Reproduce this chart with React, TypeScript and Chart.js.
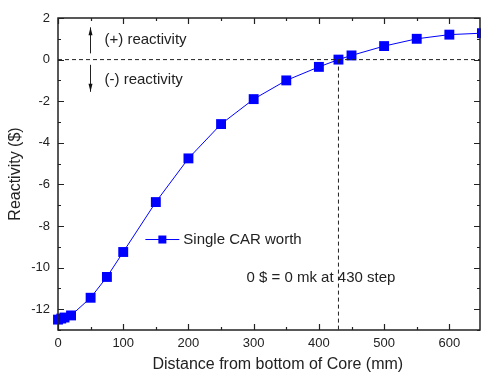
import React, { useEffect, useRef } from "react";
import { Chart, registerables } from "chart.js";

Chart.register(...registerables);

const distances = [0, 5, 10, 20, 50, 75, 100, 150, 200, 250, 300, 350, 400, 430, 450, 500, 550, 600, 650];
const reactivity = [-12.5, -12.45, -12.4, -12.3, -11.45, -10.45, -9.25, -6.85, -4.75, -3.1, -1.9, -1.0, -0.35, 0, 0.2, 0.65, 1.0, 1.2, 1.27];
const xTicks = [0, 100, 200, 300, 400, 500, 600];
const yTicks = [-12, -10, -8, -6, -4, -2, 0, 2];
const xMinorTicks = [50, 150, 250, 350, 450, 550];
const yMinorTicks = [-13, -11, -9, -7, -5, -3, -1, 1];
const criticalStep = 430;
const X_MIN = 0;
const X_MAX = 647;
const Y_MIN = -13;
const Y_MAX = 2;
const seriesLabel = "Single CAR worth";
const noteText = "0 $ = 0 mk at 430 step";
const xTitle = "Distance from bottom of Core (mm)";
const yTitle = "Reactivity ($)";
const FONT = "Liberation Sans, Arial, sans-serif";

const decorPlugin = {
  id: "decor",
  afterDatasetsDraw(chart: any) {
    const { ctx, chartArea, scales } = chart;
    const xs = scales.x;
    const ys = scales.y;
    const { left, right, top, bottom } = chartArea;
    ctx.save();
    // frame
    ctx.strokeStyle = "#222";
    ctx.lineWidth = 1.5;
    ctx.strokeRect(left, top, right - left, bottom - top);
    // ticks inward
    ctx.lineWidth = 1.2;
    const major = 6, minor = 3;
    ctx.beginPath();
    xTicks.forEach((v) => {
      const px = Math.round(xs.getPixelForValue(v)) + 0.5;
      ctx.moveTo(px, bottom); ctx.lineTo(px, bottom - major);
      ctx.moveTo(px, top); ctx.lineTo(px, top + major);
    });
    xMinorTicks.forEach((v) => {
      const px = Math.round(xs.getPixelForValue(v)) + 0.5;
      ctx.moveTo(px, bottom); ctx.lineTo(px, bottom - minor);
      ctx.moveTo(px, top); ctx.lineTo(px, top + minor);
    });
    yTicks.forEach((v) => {
      const py = Math.round(ys.getPixelForValue(v)) + 0.5;
      ctx.moveTo(left, py); ctx.lineTo(left + major, py);
      ctx.moveTo(right, py); ctx.lineTo(right - major, py);
    });
    yMinorTicks.forEach((v) => {
      const py = Math.round(ys.getPixelForValue(v)) + 0.5;
      ctx.moveTo(left, py); ctx.lineTo(left + minor, py);
      ctx.moveTo(right, py); ctx.lineTo(right - minor, py);
    });
    ctx.stroke();

    // arrows
    const ax = Math.round(xs.getPixelForValue(49)) + 0.5;
    const drawArrow = (y0: number, y1: number) => {
      const p0 = ys.getPixelForValue(y0);
      const p1 = ys.getPixelForValue(y1);
      ctx.strokeStyle = "#222";
      ctx.fillStyle = "#111";
      ctx.lineWidth = 1;
      ctx.beginPath();
      ctx.moveTo(ax, p0);
      ctx.lineTo(ax, p1);
      ctx.stroke();
      const dir = p1 < p0 ? -1 : 1;
      ctx.beginPath();
      ctx.moveTo(ax, p1);
      ctx.lineTo(ax - 2, p1 - dir * 8);
      ctx.lineTo(ax + 2, p1 - dir * 8);
      ctx.closePath();
      ctx.fill();
    };
    drawArrow(0.3, 1.55);
    drawArrow(-0.25, -1.55);

    // texts
    ctx.fillStyle = "#222";
    ctx.font = `15px ${FONT}`;
    ctx.textBaseline = "middle";
    ctx.textAlign = "left";
    ctx.fillText("(+) reactivity", ax + 14, ys.getPixelForValue(0.95));
    ctx.fillText("(-) reactivity", ax + 14, ys.getPixelForValue(-0.95));
    ctx.fillText(noteText, xs.getPixelForValue(289), ys.getPixelForValue(-10.5));

    // x title
    ctx.font = `16px ${FONT}`;
    ctx.textAlign = "center";
    ctx.fillText(xTitle, xs.getPixelForValue(337), bottom + 35);
    ctx.textAlign = "left";
    ctx.font = `15px ${FONT}`;

    // legend
    const ly = ys.getPixelForValue(-8.65);
    const lx0 = xs.getPixelForValue(134);
    const lx1 = xs.getPixelForValue(186);
    ctx.strokeStyle = "#0000ff";
    ctx.lineWidth = 1;
    ctx.beginPath();
    ctx.moveTo(lx0, ly);
    ctx.lineTo(lx1, ly);
    ctx.stroke();
    ctx.fillStyle = "#0000ff";
    const lm = (lx0 + lx1) / 2;
    ctx.fillRect(lm - 4, ly - 4, 8, 8);
    ctx.fillStyle = "#222";
    ctx.fillText(seriesLabel, lx1 + 4, ly);
    ctx.restore();
  },
};

export default function App() {
  const ref = useRef<HTMLCanvasElement>(null);
  useEffect(() => {
    document.body.style.margin = "0";
    const canvas = ref.current!;
    const chart = new Chart(canvas, {
      type: "line",
      data: {
        datasets: [
          {
            label: "zero",
            data: [{ x: X_MIN, y: 0 }, { x: X_MAX, y: 0 }],
            borderColor: "#222",
            borderWidth: 1,
            borderDash: [4, 3],
            pointRadius: 0,
          },
          {
            label: "critical",
            data: [{ x: criticalStep, y: 0 }, { x: criticalStep, y: Y_MIN }],
            borderColor: "#222",
            borderWidth: 1,
            borderDash: [4, 3],
            pointRadius: 0,
          },
          {
            label: seriesLabel,
            data: distances.map((d, i) => ({ x: d, y: reactivity[i] })),
            borderColor: "#0000ff",
            backgroundColor: "#0000ff",
            borderWidth: 1,
            pointStyle: "rect",
            pointRadius: 7,
            pointBorderWidth: 0,
            clip: false as any,
          },
        ],
      },
      options: {
        responsive: false,
        animation: false,
        layout: { autoPadding: false, padding: { top: 18, right: 1, left: 0, bottom: 0 } },
        plugins: { legend: { display: false }, tooltip: { enabled: false } },
        scales: {
          x: {
            type: "linear",
            min: X_MIN,
            max: X_MAX,
            grid: { display: false, drawTicks: false },
            border: { display: false },
            afterBuildTicks: (s: any) => { s.ticks = xTicks.map((v) => ({ value: v })); },
            afterFit: (s: any) => { s.height = 42; },
            ticks: { color: "#222", font: { family: FONT, size: 13 }, padding: 6, maxRotation: 0 },
            title: { display: false },
          },
          y: {
            type: "linear",
            min: Y_MIN,
            max: Y_MAX,
            grid: { display: false, drawTicks: false },
            border: { display: false },
            afterBuildTicks: (s: any) => { s.ticks = yTicks.map((v) => ({ value: v })); },
            afterFit: (s: any) => { s.width = 58; },
            ticks: { color: "#222", font: { family: FONT, size: 13 }, padding: 8 },
            title: { display: true, text: yTitle, color: "#222", font: { family: FONT, size: 16, lineHeight: 1 }, padding: { top: 8, bottom: 0 } },
          },
        },
      },
      plugins: [decorPlugin],
    });
    return () => chart.destroy();
  }, []);
  return <canvas ref={ref} width={481} height={372} style={{ display: "block" }} />;
}
